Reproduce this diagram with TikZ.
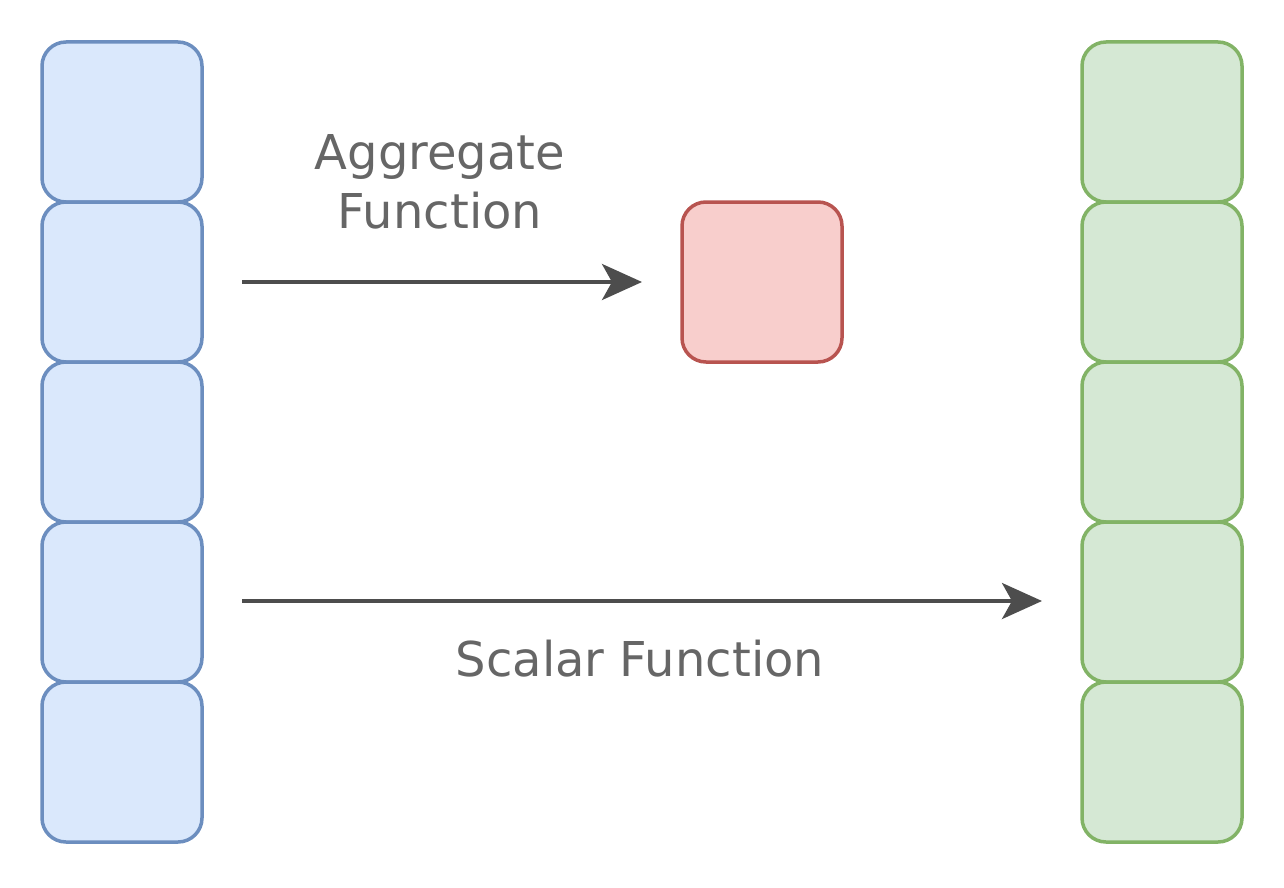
\documentclass[tikz,border=0pt]{standalone}
\usepackage{fontspec}
\setmainfont{DejaVu Sans}
\usetikzlibrary{arrows.meta}
\definecolor{bluefill}{HTML}{DAE8FC}
\definecolor{bluedraw}{HTML}{6C8EBF}
\definecolor{greenfill}{HTML}{D5E8D4}
\definecolor{greendraw}{HTML}{82B366}
\definecolor{redfill}{HTML}{F8CECC}
\definecolor{reddraw}{HTML}{B85450}
\definecolor{arrowgray}{HTML}{4D4D4D}
\definecolor{textgray}{HTML}{666666}
\tikzset{
  cell/.style={rectangle, rounded corners=12pt, minimum width=80pt, minimum height=80pt, line width=1.75pt, inner sep=0pt},
  bluecell/.style={cell, draw=bluedraw, fill=bluefill},
  greencell/.style={cell, draw=greendraw, fill=greenfill},
  redcell/.style={cell, draw=reddraw, fill=redfill},
  flow/.style={draw=arrowgray, line width=1.9pt, -{Stealth[length=20pt, width=18pt, inset=5pt]}},
  lbl/.style={text=textgray, font=\fontsize{24pt}{29.5pt}\selectfont, align=center, inner sep=0pt}
}
\begin{document}
\begin{tikzpicture}[x=0.5pt, y=-0.5pt]
\useasboundingbox (0,0) rectangle (1284,888);
\foreach \i/\y in {1/122, 2/282, 3/442, 4/602, 5/762} {
  \node[bluecell] (b\i) at (122,\y) {};
  \node[greencell] (g\i) at (1162,\y) {};
}
\node[redcell] (r) at (762,282) {};
\coordinate (a1s) at (242,282);
\coordinate (a1e) at (642,282);
\coordinate (a2s) at (242,601);
\coordinate (a2e) at (1042,601);
\draw[flow] (a1s) -- (a1e);
\draw[flow] (a2s) -- (a2e);
\node[lbl] (t1) at (440,182) {Aggregate\\Function};
\node[lbl] (t2) at (640,659) {Scalar Function};
\end{tikzpicture}
\end{document}
